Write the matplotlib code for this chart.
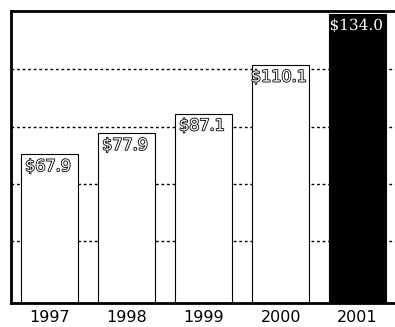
import matplotlib.pyplot as plt
import matplotlib.patheffects as pe

years = ["1997", "1998", "1999", "2000", "2001"]
values = [67.9, 77.9, 87.1, 110.1, 134.0]
labels = ["$67.9", "$77.9", "$87.1", "$110.1", "$134.0"]
fills = ["white", "white", "white", "white", "black"]
grid_vals = [27, 54, 81, 108]

y_floor = -2.3

fig = plt.figure(figsize=(3.95, 3.27), dpi=100)
ax = fig.add_axes([0.028, 0.073, 0.975, 0.893])

# dotted gridlines behind the bars
for g in grid_vals:
    ax.axhline(g, color="black", linestyle=(0, (2, 2)), linewidth=1.0, zorder=1)

x = range(len(years))
heights = [v - y_floor for v in values]
ax.bar(x, heights, bottom=y_floor, width=0.74, color=fills, edgecolor="black",
       linewidth=0.8, zorder=2)

for i, (v, lab) in enumerate(zip(values, labels)):
    fam = "DejaVu Serif" if fills[i] == "black" else "DejaVu Sans"
    size = 11 if fills[i] == "black" else 11.5
    t = ax.text(i - 0.02, v - 2.2, lab, ha="center", va="top", fontsize=size,
                family=fam, color="white", zorder=3)
    t.set_path_effects([pe.withStroke(linewidth=1.2, foreground="black")])

ax.set_xlim(-0.5, 4.5)
ax.set_ylim(y_floor, 135.5)
ax.set_xticks(list(x))
ax.set_xticklabels(years, fontsize=11.5)
ax.tick_params(axis="x", length=0, pad=5)
ax.set_yticks([])

for side in ["left", "top", "bottom"]:
    ax.spines[side].set_linewidth(2)
ax.spines["right"].set_visible(False)

plt.savefig("out.png", dpi=100)
